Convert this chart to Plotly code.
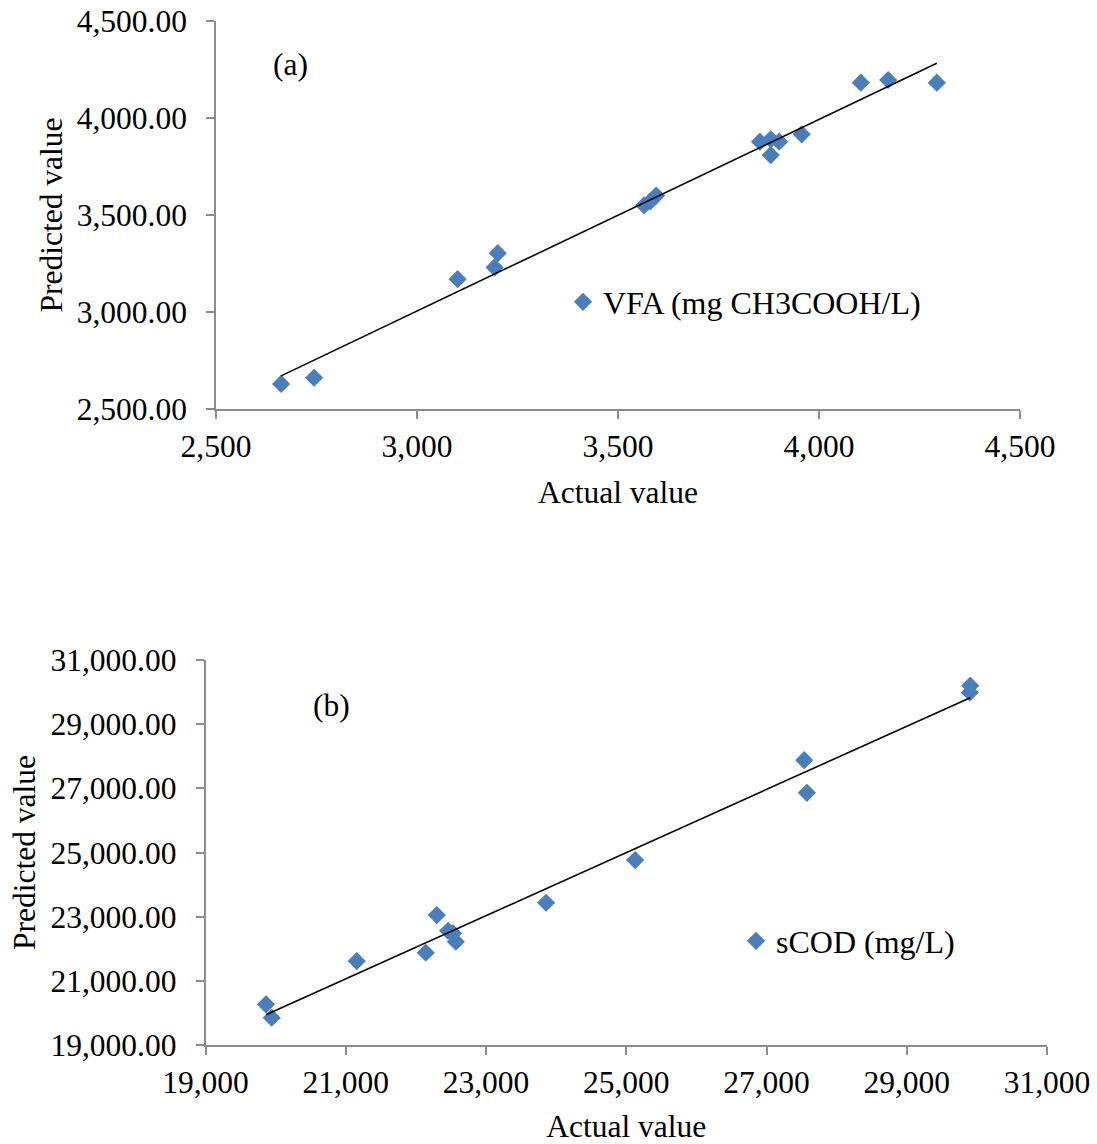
import numpy as np
import plotly.graph_objects as go

# ---- Data: (a) VFA (mg CH3COOH/L)
vfa_actual = [2662, 2744, 3101, 3201, 3193, 3565, 3580, 3595, 3853, 3880, 3901, 3880, 3957, 4104, 4172, 4293]
vfa_pred   = [2629, 2661, 3169, 3303, 3230, 3550, 3570, 3600, 3878, 3890, 3878, 3809, 3916, 4182, 4196, 4182]

# ---- Data: (b) sCOD (mg/L)
scod_actual = [19863, 19944, 21157, 22141, 22298, 22460, 22530, 22570, 23857, 25127, 27538, 27576, 29905, 29900]
scod_pred   = [20268, 19850, 21617, 21876, 23050, 22560, 22480, 22218, 23433, 24763, 27878, 26860, 30200, 29990]

vfa_xticks = [2500, 3000, 3500, 4000, 4500]
vfa_yticks = [2500, 3000, 3500, 4000, 4500]
scod_xticks = [19000, 21000, 23000, 25000, 27000, 29000, 31000]
scod_yticks = [19000, 21000, 23000, 25000, 27000, 29000, 31000]

BLUE = "#4A7EBB"
AXIS = "#8C8C8C"
FONT = "Liberation Serif, Times New Roman, serif"
FS = 31.5


def trend(x, y):
    x = np.asarray(x, float)
    y = np.asarray(y, float)
    m, b = np.polyfit(x, y, 1)
    xs = np.array([x.min(), x.max()])
    return xs, m * xs + b


fig = go.Figure()

fig.add_trace(go.Scatter(x=vfa_actual, y=vfa_pred, mode="markers", name="VFA (mg CH3COOH/L)",
                         marker=dict(symbol="diamond", size=14, color=BLUE),
                         xaxis="x", yaxis="y", legend="legend"))
tx, ty = trend(vfa_actual, vfa_pred)
fig.add_trace(go.Scatter(x=tx, y=ty, mode="lines", line=dict(color="black", width=1.6),
                         showlegend=False, xaxis="x", yaxis="y"))

fig.add_trace(go.Scatter(x=scod_actual, y=scod_pred, mode="markers", name="sCOD (mg/L)",
                         marker=dict(symbol="diamond", size=14, color=BLUE),
                         xaxis="x2", yaxis="y2", legend="legend2"))
tx2, ty2 = trend(scod_actual, scod_pred)
fig.add_trace(go.Scatter(x=tx2, y=ty2, mode="lines", line=dict(color="black", width=1.6),
                         showlegend=False, xaxis="x2", yaxis="y2"))

W, H = 1097, 1144

axis_common = dict(showline=True, linecolor=AXIS, linewidth=1.5, ticks="outside",
                   ticklen=8, tickcolor=AXIS, tickwidth=1.5, showgrid=False, zeroline=False,
                   automargin=False,
                   tickfont=dict(family=FONT, size=FS, color="black"),
                   title_font=dict(family=FONT, size=FS, color="black"))

fig.update_layout(
    width=W, height=H,
    margin=dict(l=0, r=0, t=0, b=0),
    paper_bgcolor="white", plot_bgcolor="white",
    font=dict(family=FONT, size=FS, color="black"),
    xaxis=dict(domain=[216 / W, 1020 / W], anchor="y", range=[2500, 4500],
               tickvals=vfa_xticks, tickformat=",d",
               title=dict(text="Actual value", standoff=18), **axis_common),
    yaxis=dict(domain=[1 - 409 / H, 1 - 21 / H], anchor="x", range=[2500, 4500],
               tickvals=vfa_yticks, tickformat=",.2f", ticklabelstandoff=13,
               title=dict(text="Predicted value", standoff=5), **axis_common),
    xaxis2=dict(domain=[205.5 / W, 1047 / W], anchor="y2", range=[19000, 31000],
                tickvals=scod_xticks, tickformat=",d",
                title=dict(text="Actual value", standoff=20), **axis_common),
    yaxis2=dict(domain=[1 - 1045 / H, 1 - 660 / H], anchor="x2", range=[19000, 31000],
                tickvals=scod_yticks, tickformat=",.2f", ticklabelstandoff=13,
                title=dict(text="Predicted value", standoff=5), **axis_common),
    legend=dict(x=563 / W, y=1 - 302 / H, xanchor="left", yanchor="middle",
                bgcolor="rgba(0,0,0,0)", font=dict(family=FONT, size=FS + 0.5),
                itemwidth=30, tracegroupgap=0),
    legend2=dict(x=736 / W, y=1 - 941 / H, xanchor="left", yanchor="middle",
                 bgcolor="rgba(0,0,0,0)", font=dict(family=FONT, size=FS + 0.5),
                 itemwidth=30, tracegroupgap=0),
    annotations=[
        dict(text="(a)", x=290 / W, y=1 - 65 / H, xref="paper", yref="paper",
             xanchor="center", yanchor="middle",
             showarrow=False, font=dict(family=FONT, size=FS)),
        dict(text="(b)", x=332 / W, y=1 - 706 / H, xref="paper", yref="paper",
             xanchor="center", yanchor="middle",
             showarrow=False, font=dict(family=FONT, size=FS)),
    ],
    showlegend=True,
)

fig.write_html("out.html")
